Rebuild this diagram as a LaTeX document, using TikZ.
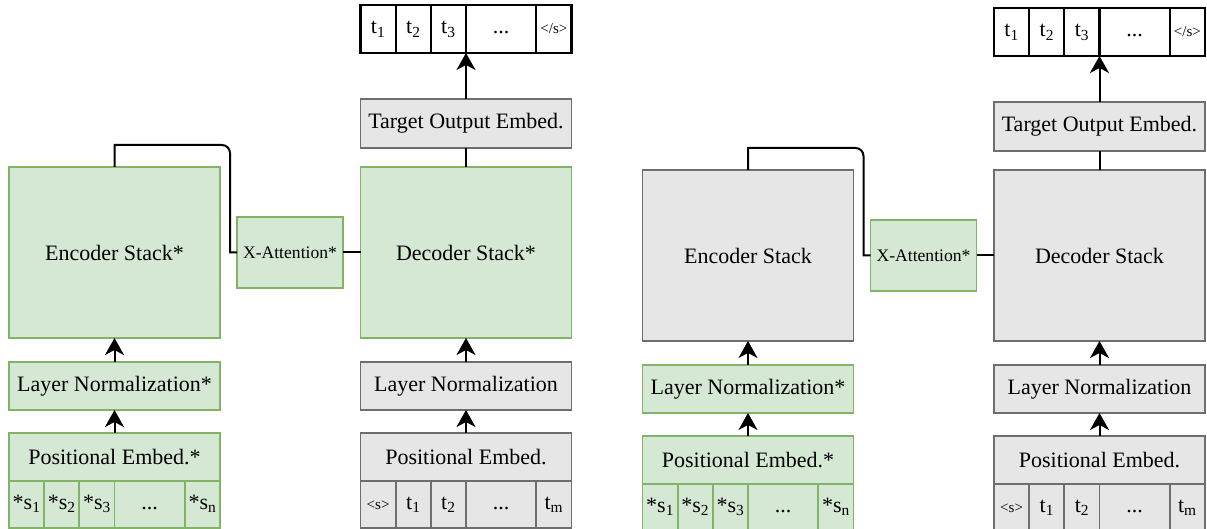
\documentclass[tikz,border=0pt]{standalone}
\usepackage{fontspec}
\setmainfont{Liberation Serif}
\usetikzlibrary{arrows.meta}

\definecolor{greenfill}{HTML}{D5E8D4}
\definecolor{greenline}{HTML}{82B366}
\definecolor{grayfill}{HTML}{E6E6E6}
\definecolor{grayline}{HTML}{6E6E6E}
\newcommand\bostok{{\fontsize{15}{16}\selectfont <s>}}
\newcommand\eostok{{\fontsize{15}{16}\selectfont </s>}}

\begin{document}
\begin{tikzpicture}[x=1pt, y=1pt,
    box/.style={draw, line width=1.8pt, inner sep=0pt, outer sep=0pt, align=center, font=\fontsize{22}{24}\selectfont},
    greenbox/.style={box, draw=greenline, fill=greenfill},
    graybox/.style={box, draw=grayline, fill=grayfill},
    outbox/.style={box, draw=black, fill=white, line width=2.2pt},
    tok/.style={text height=15pt, text depth=5pt},
    link/.style={line width=2pt},
    arr/.style={link, -{Stealth[length=17pt, width=19pt, inset=5pt]}}]
  \useasboundingbox (0,0) rectangle (1207,529);

  % two panels: all green on the left, only the input side green on the right
  \foreach \p/\sx/\sy/\st/\mk in {L/0/0/greenbox/*, R/633.5/-3/graybox/{}} {
    \begin{scope}[shift={(\sx,\sy)}]
      \node[\st, minimum width=211, minimum height=171] (enc\p) at (114.5,276.5) {Encoder Stack\mk};
      \node[greenbox, minimum width=106, minimum height=71, font=\fontsize{17.6}{19}\selectfont] (xatt\p) at (290,276.5) {X-Attention*};
      \node[\st, minimum width=211, minimum height=171] (dec\p) at (466,276.5) {Decoder Stack\mk};
      \node[graybox, minimum width=211, minimum height=49] (tout\p) at (466,405.5) {Target Output Embed.};

      \node[greenbox, minimum width=211, minimum height=48] (lnE\p) at (114.5,143) {Layer Normalization*};
      \node[greenbox, minimum width=211, minimum height=48] (peE\p) at (114.5,72) {Positional Embed.*};
      \node[graybox, minimum width=211, minimum height=48] (lnD\p) at (466,143) {Layer Normalization};
      \node[graybox, minimum width=211, minimum height=48] (peD\p) at (466,72) {Positional Embed.};

      % token rows
      \foreach \n/\x/\w/\t in {1/26.6/35.2/{*s\textsubscript{1}}, 2/61.8/35.2/{*s\textsubscript{2}},
          3/96.9/35.2/{*s\textsubscript{3}}, 4/149.7/70.3/{...}, 5/202.4/35.2/{*s\textsubscript{n}}}
        \node[greenbox, tok, minimum width=\w, minimum height=47] (s\p\n) at (\x,24.5) {\t};
      \foreach \n/\x/\w/\a/\b in {1/378.1/35.2/{\bostok}/{t\textsubscript{1}}, 2/413.3/35.2/{t\textsubscript{1}}/{t\textsubscript{2}},
          3/448.4/35.2/{t\textsubscript{2}}/{t\textsubscript{3}}, 4/501.2/70.3/{...}/{...}, 5/553.9/35.2/{t\textsubscript{m}}/{\eostok}} {
        \node[graybox, tok, minimum width=\w, minimum height=47] (t\p\n) at (\x,24.5) {\a};
        \node[outbox, tok, minimum width=\w, minimum height=48] (o\p\n) at (\x,500) {\b};
      }

      \coordinate (k\p) at (230,384);
      \draw[link] (enc\p.north) |- ([xshift=-8pt]k\p) to[out=0, in=90] ([yshift=-8pt]k\p) -- (k\p |- xatt\p.west) -- (xatt\p.west);
      \draw[link] (xatt\p.east) -- (dec\p.west);
      \draw[link] (dec\p.north) -- (tout\p.south);
      \draw[arr] (tout\p.north) -- (tout\p.north |- o\p1.south);
      \draw[arr] (peE\p.north) -- (lnE\p.south);
      \draw[arr] (lnE\p.north) -- (enc\p.south);
      \draw[arr] (peD\p.north) -- (lnD\p.south);
      \draw[arr] (lnD\p.north) -- (dec\p.south);
    \end{scope}
  }
\end{tikzpicture}
\end{document}
